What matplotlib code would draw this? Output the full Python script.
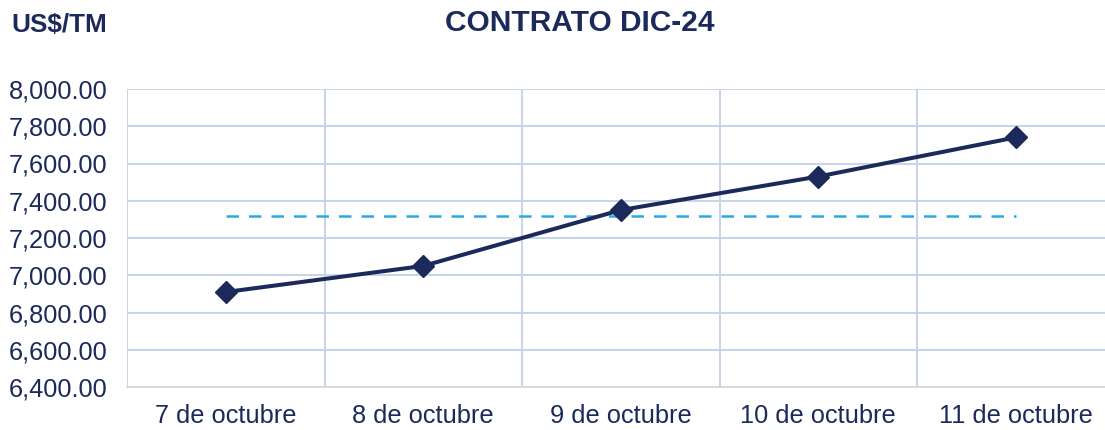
import matplotlib
matplotlib.use('Agg')
import matplotlib.pyplot as plt

plt.rcParams['font.family'] = ['Liberation Sans', 'DejaVu Sans']

# Datos del contrato
fechas = ['7 de octubre', '8 de octubre', '9 de octubre', '10 de octubre', '11 de octubre']
precios = [6910, 7050, 7350, 7530, 7740]
promedio = 7316

NAVY = '#1b2a5a'
CYAN = '#29abe2'
GRID = '#c6d4ea'

fig = plt.figure(figsize=(11.05, 4.3), dpi=100)
ax = fig.add_axes([127 / 1105, 43 / 430, 987.5 / 1105, 298 / 430])

x = list(range(len(fechas)))
ax.plot(x, precios, color=NAVY, linewidth=2.9, marker='D', markersize=11,
        zorder=4)
ax.plot([x[0], x[-1]], [promedio, promedio], color=CYAN, linewidth=1.8,
        linestyle=(0, (5, 4)), zorder=3)

ax.set_xlim(-0.5, len(fechas) - 0.5)
ax.set_ylim(6400, 8000)
ax.set_yticks(range(6400, 8001, 200))
ax.set_yticklabels([f'{v:,.2f}' for v in range(6400, 8001, 200)])
ax.set_xticks(x)
ax.set_xticklabels(fechas)

# lineas de division entre categorias
ax.set_xticks([i - 0.5 for i in range(len(fechas) + 1)], minor=True)
ax.grid(True, which='minor', axis='x', color=GRID, linewidth=1.4)
ax.grid(True, which='major', axis='y', color=GRID, linewidth=1.4)
ax.set_axisbelow(True)

for side in ['top', 'right', 'left']:
    ax.spines[side].set_visible(False)
ax.spines['bottom'].set_color('#d9d9d9')
ax.spines['bottom'].set_linewidth(1.4)

ax.tick_params(axis='both', which='both', length=0, labelsize=18.3, colors=NAVY)
ax.tick_params(axis='y', pad=14)
ax.tick_params(axis='x', pad=12)

fig.text(0.525, 0.947, 'CONTRATO DIC-24', ha='center', va='center',
         fontsize=21.5, fontweight='bold', color=NAVY)
fig.text(0.010, 0.942, 'US$/TM', ha='left', va='center',
         fontsize=18.8, fontweight='bold', color=NAVY)

fig.savefig('out.png', dpi=100)
